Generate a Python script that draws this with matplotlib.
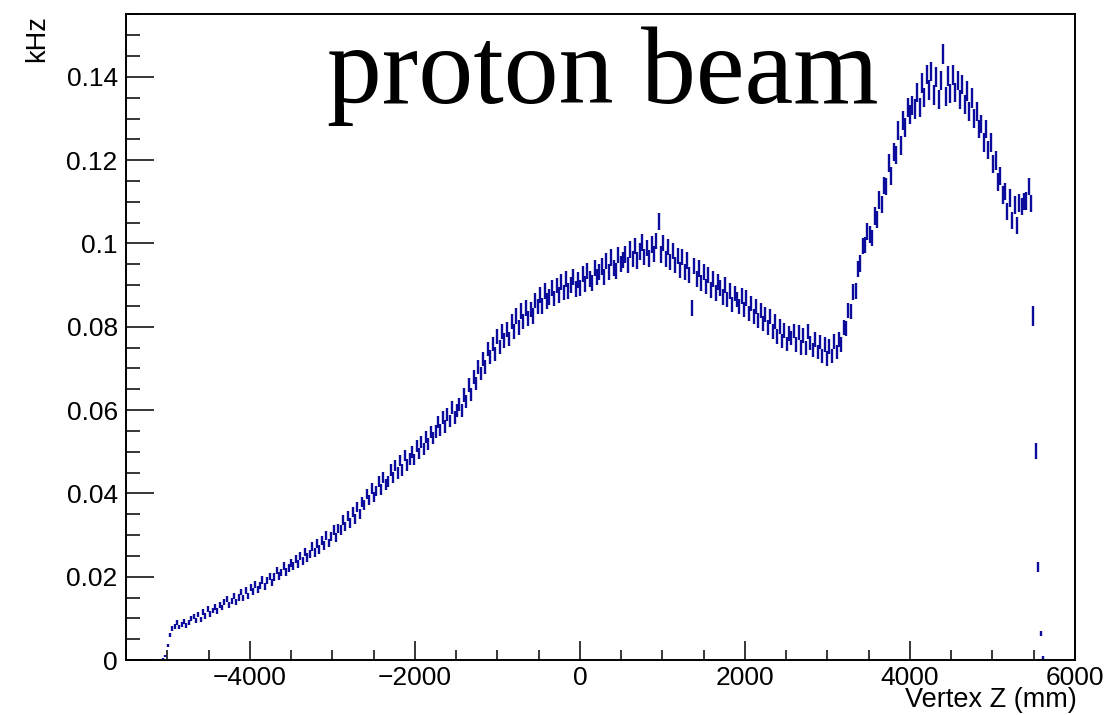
import numpy as np
import matplotlib.pyplot as plt
from matplotlib.ticker import MultipleLocator

plt.rcParams['font.family'] = ['Liberation Sans', 'DejaVu Sans']

# histogram binning along Vertex Z (mm)
z_lo, z_hi, n_bins = -5500., 6000., 400
first_bin = 15

# rate per bin (Hz), from first_bin onwards
rate_hz = [
    0.3, 1.0, 3.4, 5.9, 7.6,
    8.0, 8.9, 7.9, 8.6, 9.3, 8.2, 9.0, 9.9, 10.5, 9.4,
    10.9, 9.8, 11.5, 10.6, 12.3, 11.0, 11.9, 12.8, 11.7, 13.1,
    12.6, 13.9, 14.7, 13.2, 14.1, 15.4, 14.0, 15.0, 16.3, 14.9,
    16.6, 15.4, 17.3, 16.5, 18.1, 17.0, 17.8, 19.2, 17.6, 19.0,
    20.1, 18.7, 19.9, 21.5, 20.2, 21.0, 22.6, 21.1, 22.0, 23.4,
    22.5, 24.3, 23.1, 25.0, 23.7, 25.9, 24.6, 25.5, 27.2, 25.8,
    27.9, 26.5, 28.7, 27.5, 29.8, 28.1, 29.6, 31.2, 29.3, 31.5,
    31.2, 33.6, 32.1, 34.6, 32.9, 35.6, 33.8, 36.8, 35.1, 37.9,
    37.2, 39.8, 38.4, 41.2, 39.1, 40.6, 42.9, 41.0, 43.8, 42.2,
    42.9, 45.6, 43.8, 46.7, 44.9, 47.9, 45.6, 49.1, 46.8, 48.2,
    49.9, 48.1, 51.3, 49.6, 52.4, 50.7, 53.6, 51.9, 54.8, 53.2,
    54.9, 57.1, 55.2, 58.3, 56.1, 59.0, 57.4, 60.6, 58.2, 59.8,
    61.4, 59.9, 63.6, 62.1, 66.0, 63.8, 67.9, 66.4, 70.3, 68.8,
    72.2, 70.4, 74.6, 72.8, 75.9, 73.5, 77.6, 75.2, 78.8, 76.7,
    79.4, 77.1, 81.2, 78.8, 82.6, 79.9, 83.8, 81.2, 84.5, 82.1,
    84.2, 82.6, 86.3, 84.9, 87.7, 85.0, 88.6, 86.2, 87.1, 89.3,
    86.8, 89.9, 87.7, 90.8, 88.2, 91.4, 88.6, 90.1, 92.0, 89.0,
    91.2, 89.3, 92.6, 90.2, 93.4, 91.4, 90.6, 94.2, 92.0, 93.1,
    94.5, 92.0, 95.8, 93.2, 96.6, 94.1, 93.3, 97.2, 95.0, 96.0,
    97.4, 94.8, 98.5, 96.2, 99.4, 95.9, 98.1, 100.2, 96.8, 98.9,
    96.4, 99.8, 97.5, 100.6, 105.2, 97.4, 100.1, 96.2, 99.2, 95.6,
    98.2, 94.9, 97.0, 93.7, 96.8, 93.1, 95.9, 92.4, 84.5, 94.6,
    91.4, 94.0, 90.6, 93.1, 89.7, 92.4, 88.9, 91.5, 88.1, 90.8,
    89.3, 87.2, 90.1, 86.5, 88.6, 85.4, 88.0, 86.6, 84.8, 87.4,
    84.1, 86.9, 83.2, 85.6, 82.5, 84.9, 81.4, 83.9, 80.8, 83.0,
    79.8, 82.5, 78.9, 81.2, 77.6, 80.1, 76.6, 79.2, 75.9, 78.4,
    77.3, 79.0, 75.7, 78.6, 75.0, 77.9, 74.9, 78.8, 76.1, 74.4,
    77.0, 73.9, 76.4, 72.9, 75.8, 72.4, 75.3, 73.0, 76.5, 73.9,
    76.9, 75.8, 79.9, 79.6, 83.9, 83.6, 88.3, 88.6, 93.8, 95.2,
    99.4, 99.6, 102.9, 102.2, 101.3, 106.6, 105.8, 110.5, 109.3, 113.9,
    113.7, 119.4, 116.1, 122.0, 121.2, 127.2, 123.5, 129.6, 127.8, 132.7,
    131.0, 133.1, 132.3, 136.2, 132.6, 138.5, 135.1, 140.6, 136.8, 141.3,
    135.7, 139.9, 134.6, 139.1, 145.5, 135.3, 140.2, 136.0, 140.5, 136.2,
    139.1, 134.5, 138.2, 133.3, 136.6, 131.6, 134.9, 129.9, 131.7, 127.5,
    128.7, 124.3, 127.5, 122.4, 124.2, 119.1, 119.9, 114.8, 116.1, 111.6,
    112.5, 107.6, 110.9, 105.5, 109.2, 104.4, 109.7, 108.9, 110.1, 110.2,
    113.7, 109.6,
]
rel_err = 0.2  # Hz^0.5, statistical error scale

# downstream edge bins, with their own errors (Hz)
edge_rate_hz = [82.7, 50.2, 22.4, 6.3, 0.6]
edge_err_hz = [2.4, 2.0, 1.2, 0.6, 0.3]

edges = np.linspace(z_lo, z_hi, n_bins + 1)
centers = 0.5 * (edges[:-1] + edges[1:])

rate = np.array(rate_hz + edge_rate_hz)
err = np.concatenate([rel_err * np.sqrt(rate_hz), edge_err_hz])
z = centers[first_bin:first_bin + len(rate)]

fig = plt.figure(figsize=(11.1, 7.15), dpi=100)
ax = fig.add_axes([126 / 1110, 55 / 715, 949 / 1110, 646 / 715])

col = '#0c0c9c'
ax.errorbar(z, rate / 1000., yerr=err / 1000., fmt='none',
            ecolor=col, elinewidth=1.7)

ax.set_xlim(z_lo, z_hi)
ax.set_ylim(0, 0.1551)

ax.xaxis.set_major_locator(MultipleLocator(2000))
ax.xaxis.set_minor_locator(MultipleLocator(500))
ax.yaxis.set_major_locator(MultipleLocator(0.02))
ax.yaxis.set_minor_locator(MultipleLocator(0.005))
ax.yaxis.set_major_formatter(plt.FuncFormatter(lambda v, p: '0' if v == 0 else '%g' % v))

ax.tick_params(which='both', direction='in', top=False, right=False,
               labelsize=19, width=1.1, color='black')
ax.tick_params(axis='x', which='major', length=13.7, pad=4)
ax.tick_params(axis='x', which='minor', length=7)
ax.tick_params(axis='y', which='major', length=20, pad=6)
ax.tick_params(axis='y', which='minor', length=10)
for s in ax.spines.values():
    s.set_linewidth(1.4)

fig.text(1077 / 1110, 1 - 687 / 715, 'Vertex Z (mm)', ha='right', va='top', size=19.5)
fig.text(37 / 1110, 1 - 15 / 715, 'kHz', ha='center', va='top', rotation=90, size=19.5)

fig.text(327 / 1110, 1 - 103 / 715, 'proton beam', family='Liberation Serif',
         size=79, va='baseline', ha='left')

plt.savefig('out.png', dpi=100)
